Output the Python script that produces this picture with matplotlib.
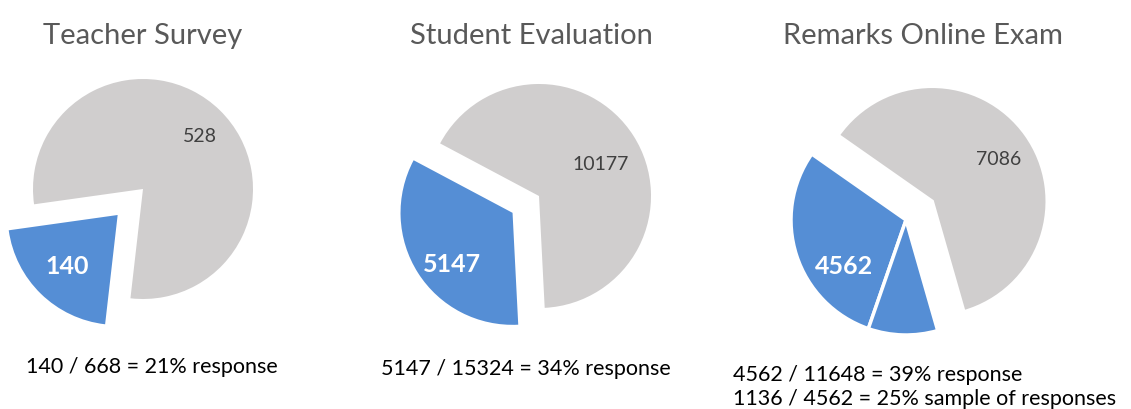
## import libraries ##
import matplotlib.pyplot as plt

## data ##
titles = ['Teacher Survey', 'Student Evaluation', 'Remarks Online Exam']
teacher_values = [140, 528]
student_values = [5147, 10177]
exam_values = [3426, 1136, 7086]   # 4562 responses split: unsampled / sampled, then no response
label_text = [['140', '528'], ['5147', '10177'], ['4562', '7086']]
notes = [['140 / 668 = 21% response'],
         ['5147 / 15324 = 34% response'],
         ['4562 / 11648 = 39% response', '1136 / 4562 = 25% sample of responses']]

## styles ##
blue = '#558ED5'
grey = '#D0CECE'
W, H = 1131, 410
plt.rcParams['font.family'] = ['Lato', 'DejaVu Sans']

fig = plt.figure(figsize=(W / 100, H / 100), dpi=100)

def place(ax, cx, cy, r):
    # one data unit = r pixels, pie centre at (cx, cy) px from top-left
    ax.set_xlim(-cx / r, (W - cx) / r)
    ax.set_ylim(-(H - cy) / r, cy / r)
    ax.axis('off')
    ax.patch.set_alpha(0)

## pies ##
ax1 = fig.add_axes([0, 0, 1, 1], label='teacher')
ax1.pie(teacher_values, colors=[blue, grey], startangle=188, counterclock=True,
        explode=[0.33, 0])
place(ax1, 143, 190, 110)

ax2 = fig.add_axes([0, 0, 1, 1], label='student')
ax2.pie(student_values, colors=[blue, grey], startangle=152, counterclock=True,
        explode=[0.28, 0])
place(ax2, 539, 197, 112)

ax3 = fig.add_axes([0, 0, 1, 1], label='exam')
ax3.pie(exam_values, colors=[blue, blue, grey], startangle=145, counterclock=True,
        explode=[0, 0, 0.28], wedgeprops=dict(edgecolor='white', linewidth=2.5))
place(ax3, 906, 221, 115)

## text ##
def ftext(x, y, s, **kw):
    fig.text(x / W, 1 - y / H, s, **kw)

title_x = [143, 531, 923]
for t, x in zip(titles, title_x):
    ftext(x, 44, t, ha='center', va='baseline', fontsize=21, color='#595959')

# slice labels (blue, grey)
blue_pos = [(67, 267), (452, 264), (844, 266)]
grey_pos = [(200, 136), (601, 164), (999, 160)]
for lab, bp, gp in zip(label_text, blue_pos, grey_pos):
    ftext(bp[0], bp[1], lab[0], ha='center', va='center', fontsize=18,
          fontweight='bold', color='white')
    ftext(gp[0], gp[1], lab[1], ha='center', va='center', fontsize=14,
          color='#404040')

note_pos = [(26, 373), (381, 375), (733, 381)]
for lines, (x, y) in zip(notes, note_pos):
    for i, line in enumerate(lines):
        ftext(x, y + 24 * i, line, ha='left', va='baseline', fontsize=15.5,
              color='black')

fig.savefig('out.png', dpi=100)
